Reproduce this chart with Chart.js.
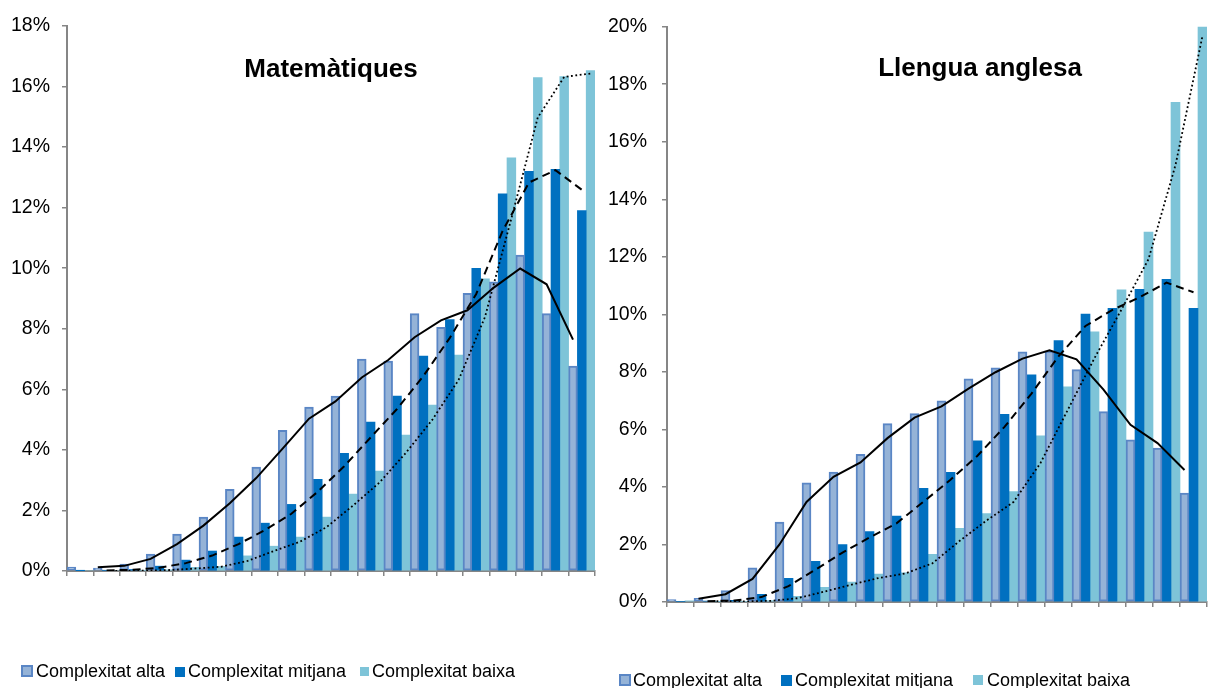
<!DOCTYPE html>
<html>
<head>
<meta charset="utf-8">
<script src="https://cdn.jsdelivr.net/npm/chart.js@4.4.1/dist/chart.umd.min.js"></script>
<style>
  body { margin: 0; background: #fff; width: 1210px; height: 688px; overflow: hidden; position: relative;
         font-family: "Liberation Sans", Arial, sans-serif; }
  canvas { position: absolute; top: 0; }
  .title { position: absolute; font-weight: bold; font-size: 26px; line-height: 26px; white-space: nowrap;
           transform: translateX(-50%); color: #000; }
  .leg { position: absolute; font-size: 18px; line-height: 18px; white-space: nowrap; color: #000; }
  .sw { position: absolute; box-sizing: border-box; }
</style>
</head>
<body>
<canvas id="barsMat" width="605" height="688" style="left:0"></canvas>
<canvas id="linesMat" width="605" height="688" style="left:0"></canvas>
<canvas id="barsAng" width="605" height="688" style="left:605px"></canvas>
<canvas id="linesAng" width="605" height="688" style="left:605px"></canvas>
<div class="title" style="left:331px; top:55px">Matemàtiques</div>
<div class="title" style="left:980px; top:54px">Llengua anglesa</div>
<div id="legends"></div>
<script>
// categories (no labels shown on the axis)
const categories = ['1', '2', '3', '4', '5', '6', '7', '8', '9', '10',
                    '11', '12', '13', '14', '15', '16', '17', '18', '19', '20'];
const seriesNames = ['Complexitat alta', 'Complexitat mitjana', 'Complexitat baixa'];

// Matemàtiques (%)
const altaMat = [0.13, 0.10, 0.23, 0.56, 1.22, 1.78, 2.70, 3.43, 4.65, 5.41, 5.78, 7.00, 6.93, 8.50, 8.05, 9.17, 9.55, 10.43, 8.50, 6.77];
const mitjMat = [0.01, 0.02, 0.05, 0.16, 0.36, 0.66, 1.12, 1.58, 2.20, 3.03, 3.89, 4.92, 5.78, 7.10, 8.30, 10.00, 12.46, 13.20, 13.27, 11.90];
const baixMat = [0.00, 0.00, 0.02, 0.04, 0.12, 0.15, 0.50, 0.82, 1.12, 1.78, 2.54, 3.30, 4.49, 5.48, 7.13, 9.65, 13.65, 16.30, 16.33, 16.53];
// trend lines (moving average)
const trendAltaMat = [null, 0.12, 0.17, 0.40, 0.89, 1.50, 2.24, 3.07, 4.04, 5.03, 5.60, 6.39, 6.97, 7.72, 8.28, 8.61, 9.36, 9.99, 9.47, 7.64];
const trendMitjMat = [null, 0.02, 0.04, 0.11, 0.26, 0.51, 0.89, 1.35, 1.89, 2.62, 3.46, 4.41, 5.35, 6.44, 7.70, 9.15, 11.23, 12.83, 13.24, 12.59];
const trendBaixMat = [null, 0.00, 0.01, 0.03, 0.08, 0.14, 0.33, 0.66, 0.97, 1.45, 2.16, 2.92, 3.90, 4.99, 6.31, 8.39, 11.65, 14.98, 16.32, 16.43];

// Llengua anglesa (%)
const altaAng = [0.08, 0.13, 0.40, 1.19, 2.78, 4.14, 4.52, 5.13, 6.20, 6.55, 6.99, 7.76, 8.14, 8.70, 8.72, 8.08, 6.62, 5.64, 5.35, 3.79];
const mitjAng = [0.02, 0.03, 0.06, 0.27, 0.82, 1.41, 2.00, 2.45, 2.99, 3.95, 4.51, 5.60, 6.52, 7.90, 9.09, 10.01, 10.21, 10.87, 11.22, 10.21];
const baixAng = [0.04, 0.01, 0.02, 0.05, 0.20, 0.51, 0.69, 0.97, 1.01, 1.66, 2.56, 3.07, 3.84, 5.78, 7.48, 9.39, 10.85, 12.86, 17.37, 21.80];
const trendAltaAng = [null, 0.11, 0.27, 0.80, 1.99, 3.46, 4.33, 4.83, 5.67, 6.38, 6.77, 7.38, 7.95, 8.42, 8.71, 8.40, 7.35, 6.13, 5.50, 4.57];
const trendMitjAng = [null, 0.03, 0.05, 0.17, 0.55, 1.12, 1.71, 2.23, 2.72, 3.47, 4.23, 5.06, 6.06, 7.21, 8.50, 9.55, 10.11, 10.54, 11.05, 10.72];
const trendBaixAng = [null, 0.03, 0.02, 0.04, 0.13, 0.36, 0.60, 0.83, 0.99, 1.34, 2.11, 2.82, 3.46, 4.81, 6.63, 8.44, 10.12, 11.86, 15.12, 19.59];

const FONT = "'Liberation Sans', Arial, sans-serif";
const AXIS = '#868686';
const barFill = ['#95B3D7', '#0070C0', '#7EC4D8'];
const barBorder = ['#5A86C5', '#0070C0', '#7EC4D8'];
const dashes = [[], [8, 5], [1.8, 2.6]];

function baseOptions(geo) {
    return {
        responsive: false,
        animation: false,
        devicePixelRatio: 1,
        layout: { padding: { left: 0, top: geo.top, right: geo.right, bottom: 0 } },
        plugins: { legend: { display: false }, tooltip: { enabled: false }, title: { display: false } }
    };
}

// grouped columns on a category axis
function makeBars(canvasId, bars, yMax, geo) {
    const opts = baseOptions(geo);
    opts.datasets = { bar: { categoryPercentage: 1, barPercentage: 1 } };
    opts.scales = {
        x: {
            type: 'category',
            offset: true,
            grid: { offset: true, drawOnChartArea: false, drawTicks: true, tickLength: 5, color: AXIS, lineWidth: 1.5 },
            border: { color: AXIS, width: 2 },
            ticks: { display: false },
            afterFit: s => { s.height = geo.bottom; }
        },
        y: {
            min: 0,
            max: yMax,
            ticks: {
                stepSize: 2,
                callback: v => v + '%',
                font: { family: FONT, size: 19.5 },
                color: '#000',
                padding: geo.tickPad
            },
            grid: { drawOnChartArea: false, drawTicks: true, tickLength: 5, color: AXIS, lineWidth: 1.5 },
            border: { color: AXIS, width: 2 },
            afterFit: s => { s.width = geo.left; }
        }
    };
    new Chart(document.getElementById(canvasId), {
        type: 'bar',
        data: {
            labels: categories,
            datasets: bars.map((vals, j) => ({
                label: seriesNames[j],
                data: vals,
                backgroundColor: barFill[j],
                borderColor: barBorder[j],
                borderWidth: j === 0 ? 2 : 0,
                borderSkipped: false,
                clip: 0
            }))
        },
        options: opts
    });
}

// trend lines on an invisible linear axis over the same plot area,
// each one sitting over the centre of its own column in the group
function makeTrends(canvasId, trends, yMax, geo) {
    const opts = baseOptions(geo);
    opts.scales = {
        x: {
            type: 'linear',
            offset: false,
            min: -0.5,
            max: categories.length - 0.5,
            ticks: { display: false },
            grid: { display: false },
            border: { display: false },
            afterFit: s => { s.height = geo.bottom; }
        },
        y: {
            min: 0,
            max: yMax,
            ticks: { display: false },
            grid: { display: false },
            border: { display: false },
            afterFit: s => { s.width = geo.left; }
        }
    };
    new Chart(document.getElementById(canvasId), {
        type: 'line',
        data: {
            datasets: trends.map((vals, j) => {
                const pts = [];
                vals.forEach((v, i) => { if (v !== null) pts.push({ x: i + (j - 1) / 3, y: v }); });
                return {
                    label: seriesNames[j] + ' (tendència)',
                    data: pts,
                    borderColor: '#000',
                    borderWidth: j === 2 ? 1.8 : 2,
                    borderDash: dashes[j],
                    pointRadius: 0,
                    fill: false,
                    tension: 0,
                    clip: 0
                };
            })
        },
        options: opts
    });
}

const geoMat = { left: 67, top: 26, right: 10, bottom: 117, tickPad: 12 };
const geoAng = { left: 62, top: 24, right: 3, bottom: 86, tickPad: 15 };
makeBars('barsMat', [altaMat, mitjMat, baixMat], 18, geoMat);
makeTrends('linesMat', [trendAltaMat, trendMitjMat, trendBaixMat], 18, geoMat);
makeBars('barsAng', [altaAng, mitjAng, baixAng], 20, geoAng);
makeTrends('linesAng', [trendAltaAng, trendMitjAng, trendBaixAng], 20, geoAng);

// legends below each panel
function makeLegend(swatches, textX, textTop) {
    const host = document.getElementById('legends');
    seriesNames.forEach((name, j) => {
        const s = swatches[j];
        const sw = document.createElement('div');
        sw.className = 'sw';
        sw.style.left = s[0] + 'px';
        sw.style.top = s[1] + 'px';
        sw.style.width = s[2] + 'px';
        sw.style.height = s[2] + 'px';
        sw.style.background = barFill[j];
        if (j === 0) sw.style.border = '2px solid ' + barBorder[0];
        host.appendChild(sw);
        const t = document.createElement('div');
        t.className = 'leg';
        t.style.left = textX[j] + 'px';
        t.style.top = textTop + 'px';
        t.textContent = name;
        host.appendChild(t);
    });
}
makeLegend([[21, 665, 12], [175, 667, 10], [360, 667, 9]], [36, 188, 372], 662);
makeLegend([[619, 674, 12], [781, 675, 11], [973, 675, 10]], [633, 795, 987], 671);
</script>
</body>
</html>
